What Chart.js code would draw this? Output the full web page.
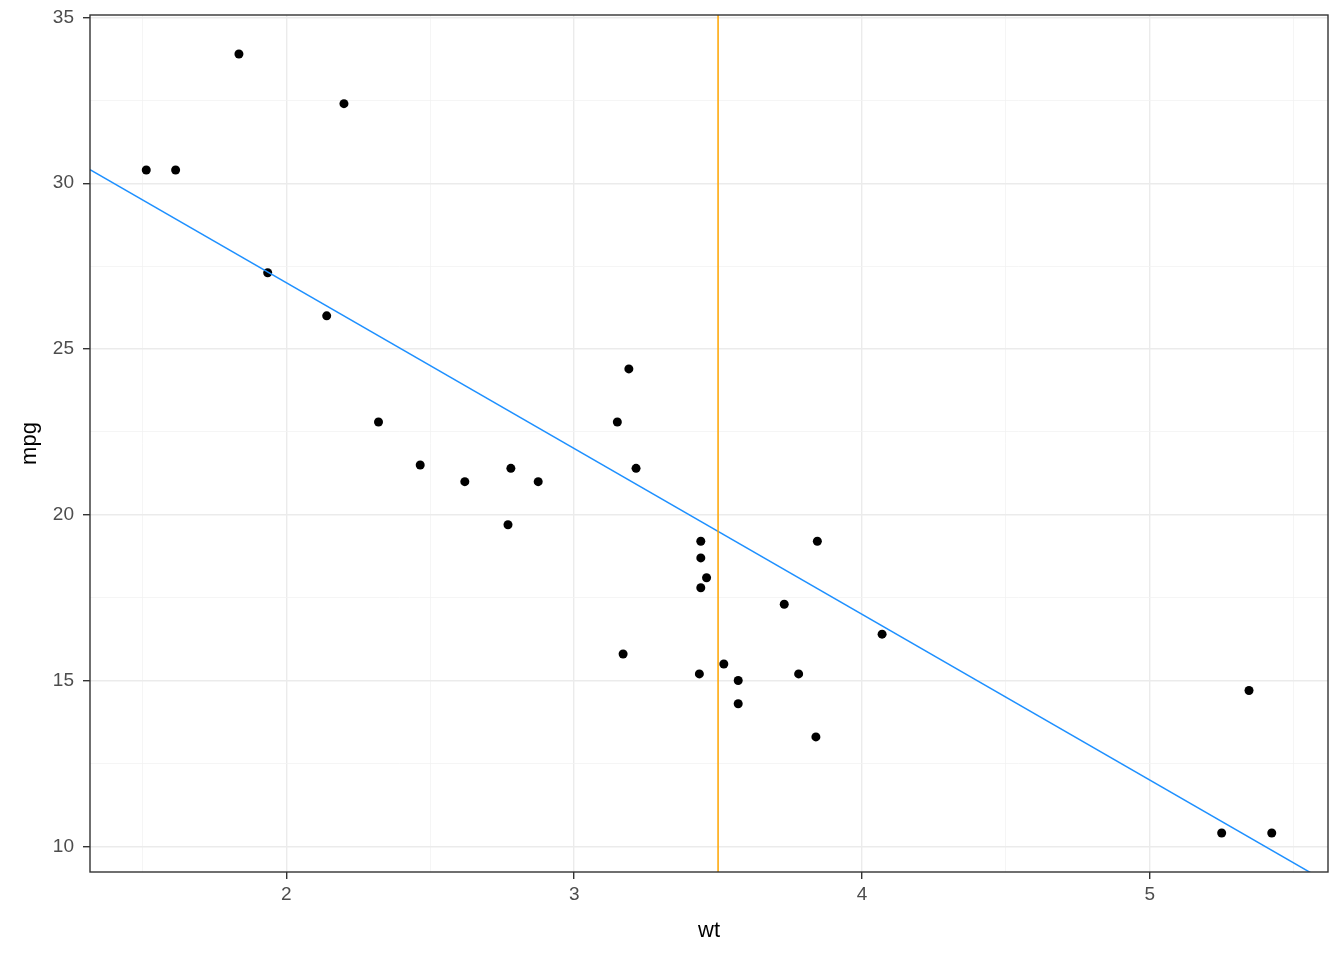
<!DOCTYPE html>
<html lang="en">
<head>
    <meta charset="UTF-8">
    <title>mpg vs wt</title>
    <script src="https://cdn.jsdelivr.net/npm/chart.js"></script>
    <style>
        html, body { margin: 0; padding: 0; background: #fff; }
        #wrap { width: 1344px; height: 960px; }
    </style>
</head>
<body>
    <div id="wrap"><canvas id="plot" width="1344" height="960"></canvas></div>

    <script>
        // mtcars: weight (1000 lbs) and miles per gallon
        const wt = [2.620, 2.875, 2.320, 3.215, 3.440, 3.460, 3.570, 3.190, 3.150, 3.440, 3.440,
                    4.070, 3.730, 3.780, 5.250, 5.424, 5.345, 2.200, 1.615, 1.835, 2.465, 3.520,
                    3.435, 3.840, 3.845, 1.935, 2.140, 1.513, 3.170, 2.770, 3.570, 2.780];
        const mpg = [21.0, 21.0, 22.8, 21.4, 18.7, 18.1, 14.3, 24.4, 22.8, 19.2, 17.8,
                     16.4, 17.3, 15.2, 10.4, 10.4, 14.7, 32.4, 30.4, 33.9, 21.5, 15.5,
                     15.2, 13.3, 19.2, 27.3, 26.0, 30.4, 15.8, 19.7, 15.0, 21.4];

        // reference line and vertical marker
        const ablineIntercept = 37;
        const ablineSlope = -5;
        const vlineX = 3.5;

        // axis ranges and ticks
        const xRange = [1.3175, 5.6195];
        const yRange = [9.225, 35.075];
        const xTicks = [1.5, 2, 2.5, 3, 3.5, 4, 4.5, 5, 5.5];
        const yTicks = [10, 12.5, 15, 17.5, 20, 22.5, 25, 27.5, 30, 32.5, 35];
        const xMajor = [2, 3, 4, 5];
        const yMajor = [10, 15, 20, 25, 30, 35];

        const points = wt.map((w, i) => ({ x: w, y: mpg[i] }));
        const abline = xRange.map(x => ({ x: x, y: ablineIntercept + ablineSlope * x }));
        const vline = yRange.map(y => ({ x: vlineX, y: y }));

        const panelBorder = {
            id: 'panelBorder',
            afterDraw(chart) {
                const a = chart.chartArea;
                const ctx = chart.ctx;
                ctx.save();
                ctx.strokeStyle = '#333333';
                ctx.lineWidth = 1.4;
                ctx.strokeRect(a.left, a.top, a.right - a.left, a.bottom - a.top);
                ctx.restore();
            }
        };

        const tickFont = { family: 'Liberation Sans, Arial, sans-serif', size: 19 };
        const titleFont = { family: 'Liberation Sans, Arial, sans-serif', size: 22 };

        new Chart(document.getElementById('plot'), {
            type: 'scatter',
            data: {
                datasets: [
                    {
                        data: points,
                        backgroundColor: '#000000',
                        borderWidth: 0,
                        pointRadius: 4.5,
                        order: 3
                    },
                    {
                        data: abline,
                        showLine: true,
                        borderColor: '#1E90FF',
                        borderWidth: 1.5,
                        pointRadius: 0,
                        order: 2
                    },
                    {
                        data: vline,
                        showLine: true,
                        borderColor: '#FFA500',
                        borderWidth: 1.5,
                        pointRadius: 0,
                        order: 1
                    }
                ]
            },
            options: {
                responsive: false,
                animation: false,
                layout: { padding: { top: 15, right: 16, left: 0, bottom: 0 } },
                plugins: {
                    legend: { display: false },
                    tooltip: { enabled: false }
                },
                scales: {
                    x: {
                        type: 'linear',
                        min: xRange[0],
                        max: xRange[1],
                        afterBuildTicks: s => { s.ticks = xTicks.map(v => ({ value: v })); },
                        afterFit: s => { s.height = 88; s.paddingLeft = 0; s.paddingRight = 0; },
                        border: { display: false },
                        grid: {
                            color: c => xMajor.includes(c.tick.value) ? '#EBEBEB' : '#F3F3F3',
                            lineWidth: c => xMajor.includes(c.tick.value) ? 1.4 : 0.8,
                            tickColor: c => xMajor.includes(c.tick.value) ? '#333333' : 'rgba(0,0,0,0)',
                            tickLength: 7,
                            tickWidth: 1.4
                        },
                        ticks: {
                            color: '#4D4D4D',
                            font: tickFont,
                            padding: 4,
                            maxRotation: 0,
                            autoSkip: false,
                            callback: v => xMajor.includes(v) ? String(v) : ''
                        },
                        title: {
                            display: true,
                            text: 'wt',
                            color: '#000000',
                            font: titleFont,
                            padding: { top: 0, bottom: 16 }
                        }
                    },
                    y: {
                        type: 'linear',
                        min: yRange[0],
                        max: yRange[1],
                        afterBuildTicks: s => { s.ticks = yTicks.map(v => ({ value: v })); },
                        afterFit: s => { s.width = 90; s.paddingTop = 0; s.paddingBottom = 0; },
                        border: { display: false },
                        grid: {
                            color: c => yMajor.includes(c.tick.value) ? '#EBEBEB' : '#F3F3F3',
                            lineWidth: c => yMajor.includes(c.tick.value) ? 1.4 : 0.8,
                            tickColor: c => yMajor.includes(c.tick.value) ? '#333333' : 'rgba(0,0,0,0)',
                            tickLength: 7,
                            tickWidth: 1.4
                        },
                        ticks: {
                            color: '#4D4D4D',
                            font: tickFont,
                            padding: 9,
                            autoSkip: false,
                            callback: v => yMajor.includes(v) ? String(v) : ''
                        },
                        title: {
                            display: true,
                            text: 'mpg',
                            color: '#000000',
                            font: titleFont,
                            padding: { top: 17, bottom: 0 }
                        }
                    }
                }
            },
            plugins: [panelBorder]
        });
    </script>
</body>
</html>
